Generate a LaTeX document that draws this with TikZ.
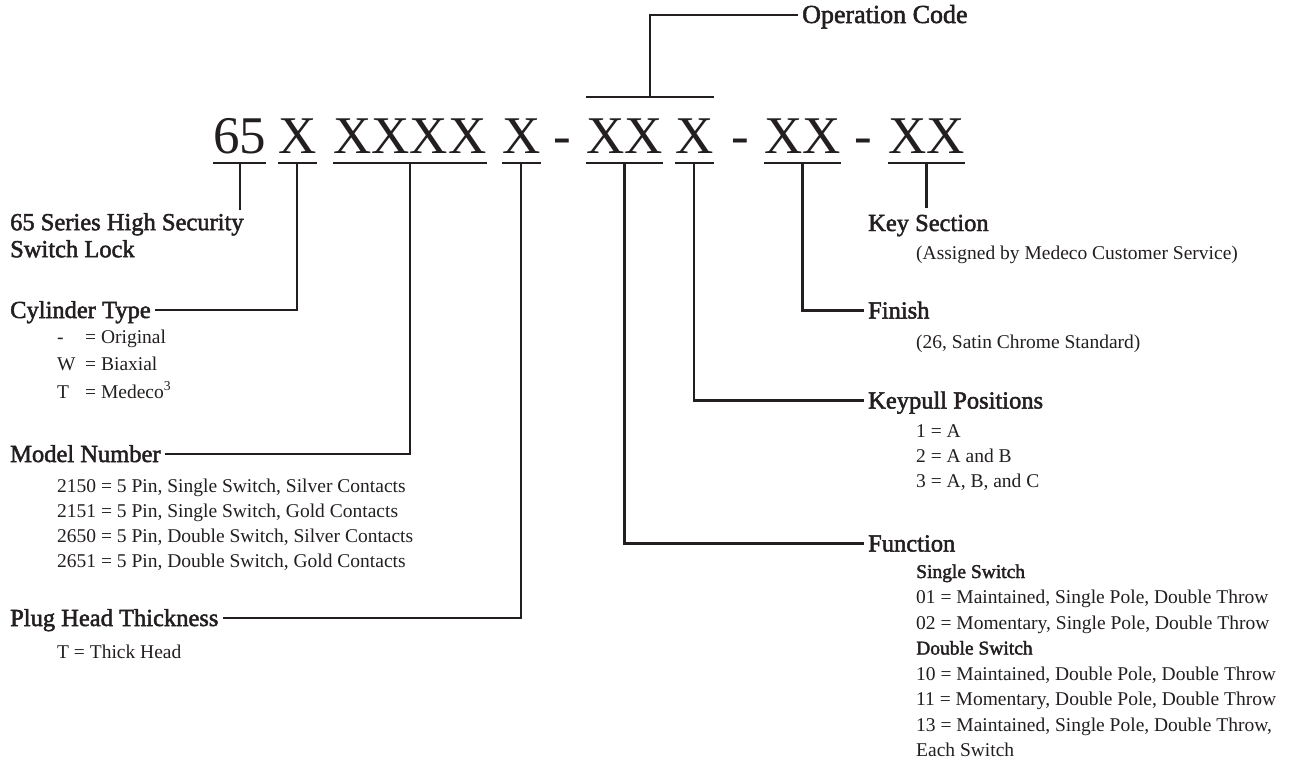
\documentclass[tikz,border=0pt]{standalone}
\usepackage{fontspec}
\setmainfont{Liberation Serif}
\newfontfamily\headfont[FakeBold=2]{Liberation Serif}
\usetikzlibrary{calc}
\definecolor{ink}{RGB}{35,31,32}

\begin{document}
\begin{tikzpicture}[
			x = 1pt, y = -1pt,
			every node/.style = {text = ink, inner sep = 0pt},
			code/.style = {font = \fontsize{53}{60}\selectfont, text depth = 9.5pt, anchor = base west},
			head/.style = {font = \headfont\fontsize{24.5}{27}\selectfont, inner xsep = 4pt, text height = 16pt, text depth = 0pt, anchor = base west},
			item/.style = {font = \fontsize{19.5}{25}\selectfont, anchor = base west},
			sub/.style = {font = \headfont\fontsize{19.5}{25}\selectfont, anchor = base west},
			link/.style = {draw = ink, line width = 2.2pt}
			]

			\useasboundingbox (0,0) rectangle (1301,763);

			\node[code] (c65) at (213,153) {65};
			\node[code] (ccyl) at (278,153) {X};
			\node[code] (cmdl) at (333,153) {XXXX};
			\node[code] (cplg) at (502,153) {X};
			\node[code] (d1) at (553,153) {-};
			\node[code] (cfn) at (586,153) {XX};
			\node[code] (ckp) at (675,153) {X};
			\node[code] (d2) at (731,153) {-};
			\node[code] (cfin) at (764,153) {XX};
			\node[code] (d3) at (854,153) {-};
			\node[code] (ckey) at (888,153) {XX};

			\foreach \c in {c65,ccyl,cmdl,cplg,cfn,ckp,cfin,ckey}
				\draw[link] (\c.south west) -- (\c.south east);

			\coordinate (barL) at ([yshift=21pt]cfn.north west);
			\coordinate (barR) at ([yshift=21pt]ckp.north east);
			\draw[link] (barL) -- (barR);
			\node[head, font = \headfont\fontsize{26}{30}\selectfont] (opc) at (798,23) {Operation Code};
			\draw[link] ($(barL)!0.5!(barR)$) |- (opc.west);

			\node[anchor = north west, align = left, font = \headfont\fontsize{24.5}{27}\selectfont] (l65) at (10,213) {65 Series High Security\\Switch Lock};
			\draw[link] (c65.south) -- ([yshift=3pt]c65.south |- l65.north);

			\node[head] (cyl) at (6,318) {Cylinder Type};
			\draw[link] (ccyl.south) |- (cyl.east);
			\foreach \k/\v [count=\i] in {-/Original, W/Biaxial, T/Medeco\textsuperscript{3}}
				\node[item] (cyl\i) at (57,{343+27.5*(\i-1)}) {\makebox[28pt][l]{\k}= \v};

			\node[head] (mdl) at (6,462) {Model Number};
			\draw[link] (cmdl.south) |- (mdl.east);
			\foreach \v [count=\i] in {{2150 = 5 Pin, Single Switch, Silver Contacts},
					{2151 = 5 Pin, Single Switch, Gold Contacts},
					{2650 = 5 Pin, Double Switch, Silver Contacts},
					{2651 = 5 Pin, Double Switch, Gold Contacts}}
				\node[item] (mdl\i) at (57,{492+25*(\i-1)}) {\v};

			\node[head] (plg) at (6,626) {Plug Head Thickness};
			\draw[link] (cplg.south) |- (plg.east);
			\node[item] (plg1) at (57,658) {T = Thick Head};

			\node[head] (key) at (864,231) {Key Section};
			\draw[link] (ckey.south) -- ([yshift=7pt]ckey.south |- key.north);
			\node[item] (key1) at (916,259) {(Assigned by Medeco Customer Service)};

			\node[head] (fin) at (864,318.5) {Finish};
			\draw[link] (cfin.south) |- (fin.west);
			\node[item] (fin1) at (916,348) {(26, Satin Chrome Standard)};

			\node[head] (kp) at (864,408.5) {Keypull Positions};
			\draw[link] (ckp.south) |- (kp.west);
			\foreach \v [count=\i] in {1 = A, 2 = A and B, {3 = A, B, and C}}
				\node[item] (kp\i) at (916,{437+25*(\i-1)}) {\v};

			\node[head] (fn) at (864,551.5) {Function};
			\draw[link] (cfn.south) |- (fn.west);
			\foreach \s/\v [count=\i] in {sub/Single Switch,
					item/{01 = Maintained, Single Pole, Double Throw},
					item/{02 = Momentary, Single Pole, Double Throw},
					sub/Double Switch,
					item/{10 = Maintained, Double Pole, Double Throw},
					item/{11 = Momentary, Double Pole, Double Throw},
					item/{13 = Maintained, Single Pole, Double Throw,},
					item/Each Switch}
				\node[\s] (fn\i) at (916,{578+25.5*(\i-1)}) {\v};

		\end{tikzpicture}
\end{document}
